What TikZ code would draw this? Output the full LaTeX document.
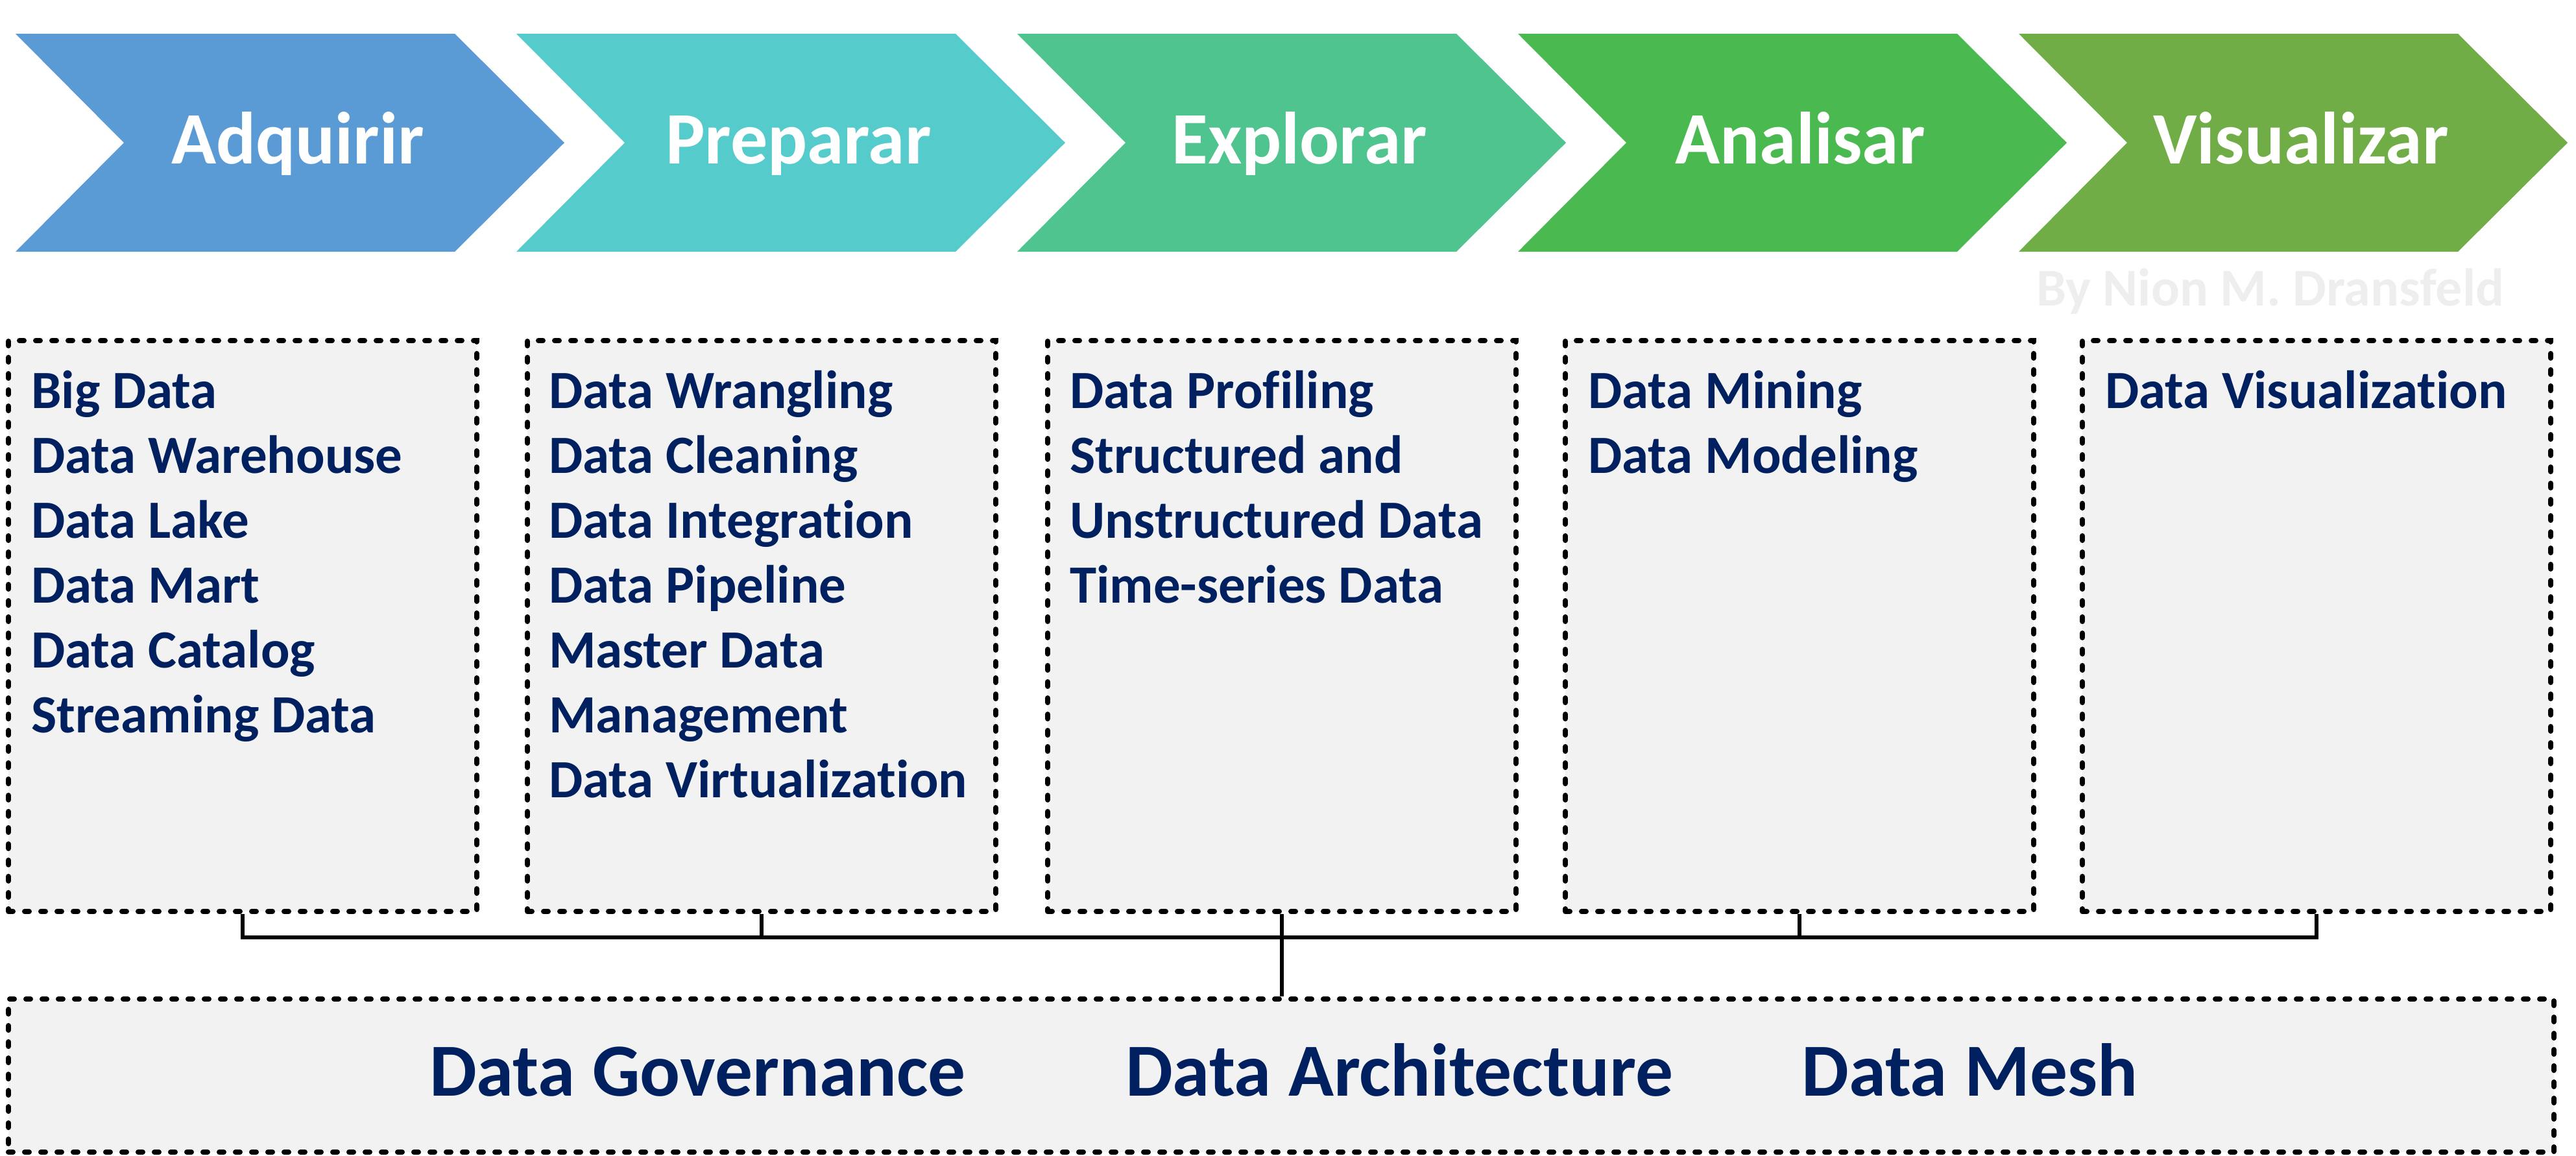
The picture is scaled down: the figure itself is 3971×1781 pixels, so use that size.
\documentclass[tikz,border=0pt]{standalone}
\usepackage{fontspec}
\setmainfont{Carlito}[Ligatures={NoCommon}]
\definecolor{cAdq}{HTML}{5B9BD5}
\definecolor{cPrep}{HTML}{56CBCB}
\definecolor{cExp}{HTML}{50C48E}
\definecolor{cAna}{HTML}{4ABA50}
\definecolor{cVis}{HTML}{70AD47}
\definecolor{navy}{HTML}{002060}
\definecolor{boxgray}{HTML}{F2F2F2}
\definecolor{wmark}{HTML}{EEEEEE}
\tikzset{
  chevtext/.style={anchor=base, text=white, font=\bfseries\fontsize{114}{136}\selectfont, inner sep=0pt},
  databox/.style={anchor=north west, draw=black, fill=boxgray, line width=8pt, dash pattern=on 7pt off 18pt, line cap=round, minimum width=722pt, minimum height=880pt, inner sep=0pt},
  govbox/.style={anchor=north west, draw=black, fill=boxgray, line width=8pt, dash pattern=on 7pt off 18pt, line cap=round, minimum width=3924pt, minimum height=236pt, inner sep=0pt},
  listtext/.style={anchor=north west, align=left, text=navy, inner sep=0pt, font=\bfseries\fontsize{83}{100}\selectfont},
  govtext/.style={anchor=base west, text=navy, inner sep=0pt, font=\bfseries\fontsize{115.5}{136}\selectfont},
  conn/.style={draw=black, line width=5.5pt}
}
\newcommand{\chev}[2]{%
  \fill[#2] (#1,52) -- (#1+677,52) -- (#1+846,220) -- (#1+677,388) -- (#1,388) -- (#1+167,220) -- cycle;
}
\newcommand{\fstrut}{\rule{0pt}{70pt}}
\begin{document}
\begin{tikzpicture}[x=1pt,y=-1pt]
\useasboundingbox (0,0) rectangle (3971,1781);
% chevrons
\chev{24}{cAdq}
\chev{796}{cPrep}
\chev{1568}{cExp}
\chev{2340}{cAna}
\chev{3112}{cVis}
\node[chevtext] (t1) at (459,252) {Adquirir};
\node[chevtext] (t2) at (1231,252) {Preparar};
\node[chevtext] (t3) at (2003,252) {Explorar};
\node[chevtext] (t4) at (2775,252) {Analisar};
\node[chevtext] (t5) at (3547,252) {Visualizar};
% watermark
\node[anchor=base west, inner sep=0pt, text=wmark, font=\bfseries\fontsize{82}{100}\selectfont] (wm) at (3139,471) {By Nion M. Dransfeld};
% boxes
\node[databox] (b1) at (9,521) {};
\node[databox] (b2) at (809,521) {};
\node[databox] (b3) at (1611,521) {};
\node[databox] (b4) at (2409,521) {};
\node[databox] (b5) at (3206,521) {};
\node[listtext] (l1) at (48,559) {\fstrut Big Data\\Data Warehouse\\Data Lake\\Data Mart\\Data Catalog\\Streaming Data};
\node[listtext] (l2) at (846,559) {\fstrut Data Wrangling\\Data Cleaning\\Data Integration\\Data Pipeline\\Master Data\\Management\\Data Virtualization};
\node[listtext] (l3) at (1649,559) {\fstrut Data Profiling\\Structured and\\Unstructured Data\\Time-series Data};
\node[listtext] (l4) at (2448,559) {\fstrut Data Mining\\Data Modeling};
\node[listtext] (l5) at (3245,559) {\fstrut Data Visualization};
% governance box
\node[govbox] (gov) at (9,1536) {};
\node[govtext] (g1) at (662,1689) {Data Governance};
\node[govtext] (g2) at (1735,1689) {Data Architecture};
\node[govtext] (g3) at (2777,1689) {Data Mesh};
% connectors
\coordinate (bus) at (0,1445);
\draw[conn] (b1.south) -- (b1.south |- bus) -- (b5.south |- bus) -- (b5.south);
\draw[conn] (b2.south) -- (b2.south |- bus);
\draw[conn] (b4.south) -- (b4.south |- bus);
\draw[conn] (b3.south) -- (b3.south |- gov.north);
\end{tikzpicture}
\end{document}
